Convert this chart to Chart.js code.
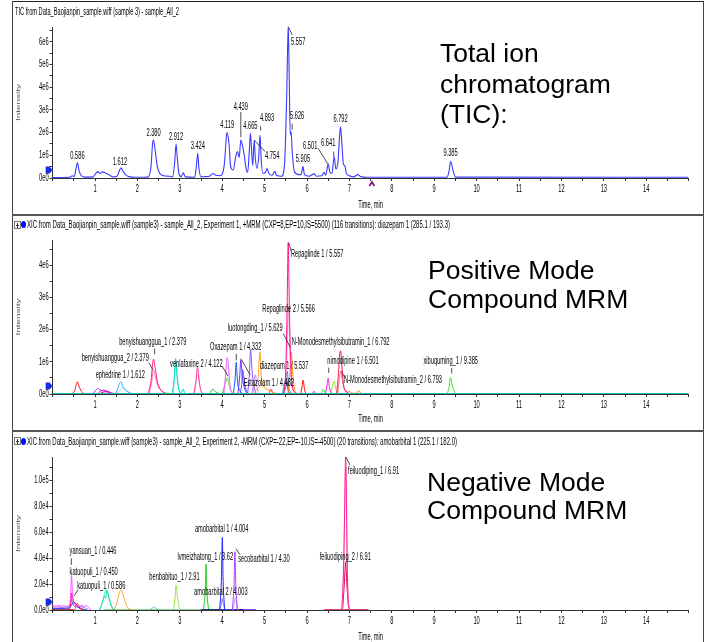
<!DOCTYPE html>
<html><head><meta charset="utf-8">
<script src="https://cdn.jsdelivr.net/npm/chart.js@4.4.1/dist/chart.umd.min.js"></script>
<style>
body{margin:0;background:#fff;}
#page{position:relative;width:706px;height:642px;overflow:hidden;background:#fff;font-family:"Liberation Sans",Arial,sans-serif;}
.ln{position:absolute;background:#444;}
canvas{position:absolute;left:12px;}
.ttl{position:absolute;white-space:nowrap;font-size:10px;line-height:12px;color:#000;transform-origin:0 50%;}
.big{position:absolute;font-size:26.5px;color:#000;white-space:nowrap;}
.plus{position:absolute;width:5px;height:6px;border:1px solid #777;background:#fff;}
.plus:before{content:"";position:absolute;left:1px;top:3px;width:3px;height:1px;background:#333;}
.plus:after{content:"";position:absolute;left:2px;top:1px;width:1px;height:5px;background:#333;}
.dot{position:absolute;width:5px;height:7px;border-radius:50%;background:#0010ff;}
</style></head>
<body><div id="page">
<div class="ln" style="left:12px;top:1px;width:692px;height:1px;background:#222"></div>
<div class="ln" style="left:12px;top:1px;width:1px;height:641px"></div>
<div class="ln" style="left:703px;top:1px;width:1px;height:641px"></div>
<div class="ln" style="left:12px;top:214px;width:692px;height:2px;background:#555"></div>
<div class="ln" style="left:12px;top:430px;width:692px;height:2px;background:#555"></div>

<canvas id="c1" width="691" height="213" style="top:2px"></canvas>
<canvas id="c2" width="691" height="215" style="top:216px"></canvas>
<canvas id="c3" width="691" height="210" style="top:432px"></canvas>

<div class="ttl" data-w="164" style="left:15px;top:6px">TIC from Data_Baojianpin_sample.wiff (sample 3) - sample_All_2</div>
<div class="plus" style="left:14px;top:221px"></div><div class="dot" style="left:21px;top:221px"></div>
<div class="ttl" data-w="423" style="left:27px;top:219px">XIC from Data_Baojianpin_sample.wiff (sample3) - sample_All_2, Experiment 1, +MRM (CXP=8,EP=10,IS=5500) (116 transitions): diazepam 1 (285.1 / 193.3)</div>
<div class="plus" style="left:14px;top:437px"></div><div class="dot" style="left:21px;top:438px"></div>
<div class="ttl" data-w="430" style="left:27px;top:436px">XIC from Data_Baojianpin_sample.wiff (sample3) - sample_All_2, Experiment 2, -MRM (CXP=-22,EP=-10,IS=-4500) (20 transitions): amobarbital 1 (225.1 / 182.0)</div>

<div class="big" style="left:440px;top:38px;line-height:30.5px">Total ion<br>chromatogram<br>(TIC):</div>
<div class="big" style="left:428px;top:256px;line-height:29.3px">Positive Mode<br>Compound MRM</div>
<div class="big" style="left:427px;top:468px;line-height:28.3px">Negative Mode<br>Compound MRM</div>
</div>
<script>
// ---------------- axis tick labels ----------------
const xTickValues = [1,2,3,4,5,6,7,8,9,10,11,12,13,14];
const xTickLabels = ['1','2','3','4','5','6','7','8','9','10','11','12','13','14'];
const ticYTickValues = [0,1e6,2e6,3e6,4e6,5e6,6e6];
const ticYTickLabels = ['0e0','1e6','2e6','3e6','4e6','5e6','6e6'];
const posYTickValues = [0,1e6,2e6,3e6,4e6];
const posYTickLabels = ['0e0','1e6','2e6','3e6','4e6'];
const negYTickValues = [0,2e4,4e4,6e4,8e4,1e5];
const negYTickLabels = ['0.0e0','2.0e4','4.0e4','6.0e4','8.0e4','1.0e5'];

// ---------------- TIC trace: [time (min), intensity] ----------------
const ticTrace = [[0,0.02e6],[0.40,0.03e6],[0.47,0.10e6],[0.51,0.06e6],[0.55,0.40e6],[0.586,0.67e6],[0.62,0.35e6],[0.67,0.12e6],[0.75,0.04e6],[0.95,0.05e6],[1.02,0.20e6],[1.07,0.28e6],[1.12,0.20e6],[1.18,0.27e6],[1.24,0.22e6],[1.32,0.15e6],[1.42,0.05e6],[1.52,0.08e6],[1.57,0.30e6],[1.612,0.45e6],[1.66,0.30e6],[1.72,0.15e6],[1.80,0.06e6],[1.95,0.03e6],[2.25,0.04e6],[2.32,0.50e6],[2.36,1.55e6],[2.38,1.67e6],[2.42,1.20e6],[2.47,0.50e6],[2.53,0.20e6],[2.62,0.10e6],[2.75,0.08e6],[2.83,0.05e6],[2.88,0.70e6],[2.912,1.50e6],[2.94,0.90e6],[2.98,0.20e6],[3.03,0.05e6],[3.08,0.23e6],[3.13,0.05e6],[3.35,0.03e6],[3.39,0.50e6],[3.424,1.09e6],[3.45,0.45e6],[3.50,0.05e6],[3.60,0.06e6],[3.70,0.08e6],[3.78,0.20e6],[3.85,0.12e6],[3.95,0.10e6],[4.05,0.60e6],[4.10,1.85e6],[4.119,2.00e6],[4.16,1.50e6],[4.20,0.50e6],[4.26,0.35e6],[4.32,0.95e6],[4.36,1.16e6],[4.40,0.90e6],[4.439,1.67e6],[4.48,1.40e6],[4.52,1.00e6],[4.56,0.45e6],[4.60,0.25e6],[4.64,1.20e6],[4.665,1.97e6],[4.70,1.00e6],[4.72,0.55e6],[4.754,1.67e6],[4.78,0.90e6],[4.82,0.42e6],[4.86,0.90e6],[4.893,1.89e6],[4.92,0.80e6],[4.96,0.20e6],[5.02,0.25e6],[5.06,0.42e6],[5.10,0.20e6],[5.18,0.12e6],[5.24,0.30e6],[5.28,0.12e6],[5.40,0.08e6],[5.47,0.60e6],[5.52,3.50e6],[5.557,6.66e6],[5.58,4.50e6],[5.605,1.90e6],[5.626,2.04e6],[5.65,1.20e6],[5.70,0.30e6],[5.80,0.15e6],[5.86,0.15e6],[5.905,0.50e6],[5.94,0.15e6],[6.05,0.08e6],[6.17,0.18e6],[6.22,0.08e6],[6.35,0.10e6],[6.40,0.25e6],[6.44,0.12e6],[6.501,0.62e6],[6.54,0.25e6],[6.59,0.20e6],[6.641,0.94e6],[6.68,0.40e6],[6.73,0.70e6],[6.77,1.90e6],[6.792,2.26e6],[6.82,1.60e6],[6.86,0.60e6],[6.89,0.55e6],[6.93,0.20e6],[7.00,0.10e6],[7.10,0.05e6],[7.20,0.15e6],[7.25,0.08e6],[7.40,0.03e6],[9.30,0.03e6],[9.35,0.30e6],[9.385,0.72e6],[9.45,0.30e6],[9.50,0.04e6],[15,0.03e6]];
const ticPeakText = ['0.586','1.612','2.380','2.912','3.424','4.119','4.439','4.665','4.754','4.893','5.557','5.626','5.905','6.501','6.641','6.792','9.385'];
const ticPeakTime = [0.586,1.612,2.380,2.912,3.424,4.119,4.439,4.665,4.754,4.893,5.557,5.626,5.905,6.501,6.641,6.792,9.385];
const ticPeakIntensity = [0.67e6,0.45e6,1.67e6,1.50e6,1.09e6,2.00e6,1.67e6,1.97e6,1.67e6,1.89e6,6.66e6,2.04e6,0.50e6,0.62e6,0.94e6,2.26e6,0.72e6];

// ---------------- Positive mode MRM traces ----------------
const posCyanBase = [[0,0],[15,0]];
const posRed058 = [[0.45,0],[0.52,0.1e6],[0.56,0.3e6],[0.586,0.38e6],[0.62,0.25e6],[0.68,0.08e6],[0.76,0]];
const posPurple11 = [[0.95,0],[1.02,0.12e6],[1.07,0.17e6],[1.12,0.12e6],[1.2,0.1e6],[1.3,0.05e6],[1.4,0]];
const posMagenta12 = [[1.05,0],[1.12,0.08e6],[1.2,0.12e6],[1.28,0.1e6],[1.35,0.04e6],[1.45,0]];
const posRed12 = [[1.1,0],[1.2,0.06e6],[1.3,0.08e6],[1.4,0.03e6],[1.5,0]];
const ephedrine1 = [[1.45,0],[1.52,0.1e6],[1.57,0.3e6],[1.612,0.38e6],[1.66,0.22e6],[1.72,0.12e6],[1.8,0.05e6],[1.9,0]];
const ephedrine2 = [[1.5,0],[1.6,0.12e6],[1.68,0.2e6],[1.75,0.1e6],[1.85,0]];
const benyishuanggua1 = [[2.25,0],[2.32,0.4e6],[2.36,0.95e6],[2.379,1.08e6],[2.42,0.8e6],[2.47,0.4e6],[2.53,0.18e6],[2.62,0.05e6],[2.75,0]];
const benyishuanggua2 = [[2.28,0],[2.34,0.4e6],[2.379,0.75e6],[2.42,0.55e6],[2.48,0.25e6],[2.58,0.08e6],[2.7,0]];
const posNavyBase = [[2.3,0],[3.5,0]];
const posLime27 = [[2.6,0],[2.7,0.04e6],[2.8,0]];
const posCyan29 = [[2.82,0],[2.87,0.5e6],[2.9,1.1e6],[2.93,0.6e6],[2.98,0.12e6],[3.03,0.02e6],[3.08,0.15e6],[3.12,0.02e6],[3.2,0]];
const posAqua29 = [[2.84,0],[2.89,0.7e6],[2.92,0.9e6],[2.96,0.3e6],[3.02,0]];
const posPink342 = [[3.33,0],[3.38,0.4e6],[3.42,0.85e6],[3.45,0.45e6],[3.5,0.1e6],[3.56,0]];
const posPinkLight342 = [[3.35,0],[3.4,0.5e6],[3.44,0.6e6],[3.48,0.2e6],[3.54,0]];
const posGreen378 = [[3.7,0],[3.78,0.15e6],[3.85,0.06e6],[3.95,0]];
const venlafaxine2 = [[4.0,0],[4.08,0.35e6],[4.122,0.5e6],[4.16,0.3e6],[4.22,0.05e6],[4.3,0]];
const venlafaxine1 = [[4.03,0],[4.08,0.6e6],[4.11,1.13e6],[4.14,1.0e6],[4.18,0.3e6],[4.24,0]];
const posPinkLight413 = [[4.05,0],[4.1,0.8e6],[4.13,0.9e6],[4.18,0.2e6],[4.24,0]];
const oxazepam1 = [[4.26,0],[4.3,0.4e6],[4.332,0.98e6],[4.36,0.4e6],[4.42,0.1e6],[4.5,0]];
const posPurple444 = [[4.37,0],[4.41,0.5e6],[4.44,1.06e6],[4.47,0.6e6],[4.52,0.2e6],[4.58,0]];
const estazolam1 = [[4.42,0],[4.46,0.3e6],[4.482,0.75e6],[4.53,0.3e6],[4.6,0]];
const posViolet467 = [[4.6,0],[4.64,0.6e6],[4.67,1.37e6],[4.7,0.8e6],[4.74,0.3e6],[4.8,0]];
const posLilac478 = [[4.7,0],[4.75,0.4e6],[4.78,0.6e6],[4.82,0.2e6],[4.88,0]];
const posOrange489 = [[4.72,0],[4.78,0.3e6],[4.84,0.45e6],[4.87,1.0e6],[4.89,1.31e6],[4.92,0.6e6],[4.98,0.25e6],[5.1,0.12e6],[5.2,0.05e6],[5.3,0]];
const posOrangeLight50 = [[4.75,0],[4.85,0.2e6],[4.95,0.25e6],[5.05,0.15e6],[5.2,0.05e6],[5.3,0]];
const posMagenta515 = [[5.1,0],[5.15,0.15e6],[5.2,0]];
const diazepam1 = [[5.42,0],[5.47,0.3e6],[5.51,0.55e6],[5.537,0.7e6],[5.56,0.3e6],[5.62,0.05e6],[5.66,0]];
const posBlue553 = [[5.45,0],[5.5,0.25e6],[5.53,0.4e6],[5.56,0.1e6],[5.62,0]];
const repaglinde1 = [[5.45,0],[5.5,0.8e6],[5.53,2.6e6],[5.557,4.7e6],[5.58,3.0e6],[5.61,1.2e6],[5.65,0.3e6],[5.72,0.05e6],[5.8,0]];
const repaglinde2 = [[5.46,0],[5.51,0.6e6],[5.54,2.0e6],[5.566,2.7e6],[5.59,1.6e6],[5.62,0.6e6],[5.67,0.1e6],[5.75,0]];
const luotongding1 = [[5.55,0],[5.59,0.5e6],[5.629,1.29e6],[5.66,0.7e6],[5.7,0.2e6],[5.76,0]];
const posRed591 = [[5.85,0],[5.88,0.2e6],[5.91,0.43e6],[5.94,0.15e6],[5.98,0]];
const posMagenta617 = [[6.12,0],[6.17,0.08e6],[6.22,0]];
const posGreen638 = [[6.33,0],[6.38,0.15e6],[6.43,0.02e6],[6.47,0]];
const nimodipine1 = [[6.43,0],[6.47,0.25e6],[6.501,0.49e6],[6.53,0.2e6],[6.58,0]];
const posYellowGreen664 = [[6.56,0],[6.6,0.25e6],[6.64,0.4e6],[6.68,0.15e6],[6.72,0]];
const nMonodesmethylsibutramin1 = [[6.7,0],[6.74,0.6e6],[6.77,1.2e6],[6.792,1.34e6],[6.82,0.9e6],[6.86,0.3e6],[6.92,0.1e6],[7.0,0]];
const nMonodesmethylsibutramin2 = [[6.72,0],[6.76,0.4e6],[6.793,0.7e6],[6.83,0.45e6],[6.88,0.15e6],[6.95,0]];
const posOrange7 = [[6.92,0],[7.0,0.08e6],[7.05,0.03e6],[7.15,0.02e6],[7.22,0.1e6],[7.28,0]];
const xibuquming1 = [[9.3,0],[9.35,0.2e6],[9.385,0.51e6],[9.43,0.25e6],[9.5,0]];

const posPeakText = ['Repaglinde 1 / 5.557','Repaglinde 2 / 5.566','luotongding_1 / 5.629','N-Monodesmethylsibutramin_1 / 6.792','Oxazepam 1 / 4.332','venlafaxine 2 / 4.122','benyishuanggua_1 / 2.379','benyishuanggua_2 / 2.379','ephedrine 1 / 1.612','diazepam 1 / 5.537','Estazolam 1 / 4.482','nimodipine 1 / 6.501','N-Monodesmethylsibutramin_2 / 6.793','xibuquming_1 / 9.385'];
const posPeakTime = [5.557,5.566,5.629,6.792,4.332,4.122,2.379,2.379,1.612,5.537,4.482,6.501,6.793,9.385];
const posPeakIntensity = [4.7e6,2.7e6,1.29e6,1.34e6,0.98e6,0.5e6,1.08e6,0.75e6,0.38e6,0.7e6,0.75e6,0.49e6,0.7e6,0.51e6];

// ---------------- Negative mode MRM traces ----------------
const negMagentaNoise = [[0,3000],[0.05,3500],[0.1,2800],[0.15,3400],[0.2,3000],[0.25,3300],[0.3,2900],[0.35,3200],[0.4,4000],[0.43,15000],[0.446,27000],[0.47,12000],[0.5,5000],[0.55,4000],[0.6,3000],[0.7,3500],[0.75,2800],[0.8,3300],[0.85,2000],[0.9,0]];
const negVioletNoise = [[0,2000],[0.1,2400],[0.2,2000],[0.3,2300],[0.4,2100],[0.45,8000],[0.5,3000],[0.6,2500],[0.75,2000],[0.85,0]];
const negBlueNoise = [[0,1000],[0.2,1200],[0.4,1500],[0.45,4000],[0.5,6500],[0.55,3500],[0.6,2000],[0.7,800],[0.8,0]];
const katuopuli450 = [[0.38,0],[0.43,6000],[0.45,13000],[0.5,6000],[0.55,5000],[0.62,2000],[0.7,0]];
const negDarkRedBase = [[0,0],[0.5,0]];
const katuopuli586 = [[0.52,0],[0.586,5000],[0.65,1500],[0.72,0]];
const negTeal128 = [[1.1,0],[1.18,6000],[1.22,11000],[1.25,9000],[1.28,15000],[1.32,11000],[1.38,4000],[1.45,0]];
const negAqua128 = [[1.12,0],[1.2,9000],[1.26,16000],[1.3,12000],[1.36,5000],[1.42,0]];
const negOrange161 = [[1.45,0],[1.52,6000],[1.58,14000],[1.62,15400],[1.68,10000],[1.75,3000],[1.85,0]];
const negSky238 = [[2.3,0],[2.35,1500],[2.4,2300],[2.45,1000],[2.5,0]];
const negGreenBase = [[1.2,0],[4.0,0]];
const benbabituo1 = [[2.85,0],[2.89,10000],[2.91,19300],[2.95,9000],[3.0,0]];
const lvmeizhatong1 = [[3.56,0],[3.6,15000],[3.62,35400],[3.64,14000],[3.68,0]];
const negNavyBase = [[3.5,0],[4.5,0]];
const amobarbital1 = [[3.94,0],[3.98,22000],[4.004,56000],[4.02,25000],[4.06,0]];
const amobarbital2 = [[3.94,0],[3.98,5000],[4.003,9000],[4.03,4000],[4.07,0]];
const secobarbital1 = [[4.24,0],[4.28,20000],[4.30,45000],[4.32,20000],[4.36,0]];
const secobarbital2 = [[4.25,0],[4.29,6000],[4.31,10000],[4.34,3000],[4.38,0]];
const negPurpleBase = [[4.3,0],[4.8,0]];
const negMaroonBase = [[6.4,0],[7.45,0]];
const feiluodiping1 = [[6.82,0],[6.86,30000],[6.89,80000],[6.91,118000],[6.93,85000],[6.95,30000],[6.98,5000],[7.02,0]];
const feiluodiping1b = [[6.83,0],[6.87,40000],[6.9,100000],[6.92,110000],[6.94,60000],[6.97,10000],[7.0,0]];
const feiluodiping2 = [[6.84,0],[6.88,20000],[6.91,37000],[6.94,20000],[6.98,2000],[7.02,0]];

const negPeakText = ['yansuan_1 / 0.446','katuopuli_1 / 0.450','katuopuli_1 / 0.586','benbabituo_1 / 2.91','lvmeizhatong_1 / 3.62','amobarbital 1 / 4.004','amobarbital 2 / 4.003','secobarbital 1 / 4.30','feiluodiping_1 / 6.91','feiluodiping_2 / 6.91'];
const negPeakTime = [0.446,0.450,0.586,2.91,3.62,4.004,4.003,4.30,6.91,6.91];
const negPeakIntensity = [27000,13000,5000,19300,35400,56000,9000,45000,118000,37000];

// ---------------- styles / layout (kept separate from data) ----------------
const SX = 0.57;
const FONT = '"Liberation Sans", Arial, sans-serif';
// [dx, dy, leader [x1,y1,x2,y2] relative to peak pixel]
const ticLabelLayout = [[0,-7],[-1,-6],[0,-7],[0,-7],[0,-7],[0,-7],[0,-33,[0,-28,0,-3]],[0,-7],[18,16.6,[0,0,11,11.6]],[7,-17,[0.6,-9,0.6,-4.4]],[10,15,[0,0,4,8]],[6,-15,[1,-8,1,-2]],[0,-7],[-18,-18,[-10,-15.6,-0.5,0]],[-6,-13.4,[-0.5,-5,-0.5,0]],[0,-7],[0,-8]];
const posLabelLayout = [[29,12,[0.5,0,3,9]],[0,2],[-36,-24,[-8,-19,-1,-5]],[0,-8.4],[-0.6,-15,[0,-8.6,0,-2]],[-31,-13.7,[-5.4,-12,0.6,-2]],[-0.7,-16.7,[1.2,-10.7,1.2,-5]],[-38.2,-11.7,[-4.5,-7,-0.5,0]],[-0.7,-6.8],[-3.2,-5.6],[26.2,13.7,[-1.9,-11.3,7.7,5.3]],[24.8,-17.3,[0.5,-10.6,0.5,-5.3]],[52.4,8.4,[0.4,-0.6,4.4,6.4]],[0.2,-16.7,[1.2,-9.7,1.2,-4]]];
const negLabelLayout = [[21.5,-23.4,[-0.2,-16.7,-0.2,-10.1]],[22,-20.4],[23.8,-17.3,[0.6,-13.6,-3.4,-7.6]],[-1.5,-7.3],[-0.8,-7],[-0.7,-8],[-1.5,-6.5],[29,8,[1,-3,5,3]],[28,14,[0.4,0,4.4,8]],[-0.3,-5]];

function narrowText(ctx, text, x, y, align, size, color) {
  ctx.save();
  ctx.font = size + 'px ' + FONT;
  ctx.fillStyle = color;
  ctx.textBaseline = 'middle';
  ctx.textAlign = align;
  ctx.translate(x, y);
  ctx.scale(SX, 1);
  ctx.fillText(text, 0, 0);
  ctx.restore();
}

const chromPlugin = {
  id: 'chrom',
  afterDraw(chart, args, o) {
    const ctx = chart.ctx, a = chart.chartArea, xs = chart.scales.x, ys = chart.scales.y;
    o.yTickValues.forEach((v, i) => narrowText(ctx, o.yTickLabels[i], a.left - 4, ys.getPixelForValue(v), 'right', 10, '#000'));
    xTickValues.forEach((v, i) => narrowText(ctx, xTickLabels[i], xs.getPixelForValue(v), a.bottom + 11, 'center', 10, '#000'));
    narrowText(ctx, 'Time, min', (a.left + a.right) / 2, a.bottom + o.timeDy, 'center', 10, '#000');
    ctx.save();
    ctx.translate(6.5, (a.top + a.bottom) / 2);
    ctx.scale(SX, 1);
    ctx.rotate(-Math.PI / 2);
    ctx.font = '10px ' + FONT; ctx.fillStyle = '#555'; ctx.textAlign = 'center'; ctx.textBaseline = 'middle';
    ctx.fillText('Intensity', 0, 0);
    ctx.restore();
    // blue start marker
    ctx.save();
    ctx.fillStyle = '#1030e8';
    const mx = a.left - 3.5, my = a.bottom - 8;
    ctx.beginPath();
    ctx.moveTo(mx - 3.5, my - 3.5); ctx.lineTo(mx + 0.5, my - 3.5); ctx.lineTo(mx + 3.5, my);
    ctx.lineTo(mx + 0.5, my + 3.5); ctx.lineTo(mx - 3.5, my + 3.5); ctx.closePath(); ctx.fill();
    ctx.restore();
    if (o.cursorTime !== undefined) {
      const cx = xs.getPixelForValue(o.cursorTime), cy = a.bottom + 4;
      ctx.save(); ctx.strokeStyle = '#800080'; ctx.lineWidth = 1.6;
      ctx.beginPath(); ctx.moveTo(cx - 2.5, cy + 4); ctx.lineTo(cx, cy); ctx.lineTo(cx + 2.5, cy + 4); ctx.stroke();
      ctx.restore();
    }
    // peak labels
    o.peakText.forEach((txt, i) => {
      const px = xs.getPixelForValue(o.peakTime[i]), py = ys.getPixelForValue(o.peakValue[i]);
      const L = o.layout[i];
      narrowText(ctx, txt, px + L[0], py + L[1], 'center', 10, '#000');
      if (L[2]) {
        ctx.save(); ctx.strokeStyle = '#222'; ctx.lineWidth = 0.8;
        ctx.beginPath(); ctx.moveTo(px + L[2][0], py + L[2][1]); ctx.lineTo(px + L[2][2], py + L[2][3]); ctx.stroke();
        ctx.restore();
      }
    });
  }
};

const minorX = [];
for (let k = 0; k <= 30; k++) minorX.push(k / 2);

function scales(yMax, yMarks, xH, yW) {
  return {
    x: { type: 'linear', min: 0, max: 15,
      afterBuildTicks: s => { s.ticks = minorX.map(v => ({ value: v })); },
      afterFit: s => { s.height = xH; },
      ticks: { display: false },
      grid: { drawOnChartArea: false, drawTicks: true, tickLength: 3, color: '#333' },
      border: { color: '#333', width: 1 } },
    y: { type: 'linear', min: 0, max: yMax,
      afterBuildTicks: s => { s.ticks = yMarks.map(v => ({ value: v })); },
      afterFit: s => { s.width = yW; },
      ticks: { display: false },
      grid: { drawOnChartArea: false, drawTicks: true, tickLength: 3, color: '#333' },
      border: { color: '#333', width: 1 } }
  };
}
function ds(data, color, width) {
  return { data: data, borderColor: color, borderWidth: width || 1, pointRadius: 0, fill: false,
    tension: 0.3, cubicInterpolationMode: 'monotone' };
}
function makeChart(id, datasets, yMax, yMarks, xH, top, plug) {
  return new Chart(document.getElementById(id), {
    type: 'line',
    data: { datasets: datasets },
    options: {
      responsive: false, animation: false, parsing: true,
      layout: { padding: { top: top, right: 14.4, left: 0, bottom: 0 }, autoPadding: false },
      scales: scales(yMax, yMarks, xH, 40.6),
      plugins: { legend: { display: false }, tooltip: { enabled: false }, chrom: plug }
    },
    plugins: [chromPlugin]
  });
}

// Panel 1: TIC
makeChart('c1', [ds(ticTrace, '#3a3aff', 1.1)], 6.65e6,
  [0,0.5e6,1e6,1.5e6,2e6,2.5e6,3e6,3.5e6,4e6,4.5e6,5e6,5.5e6,6e6,6.5e6], 37, 25,
  { yTickValues: ticYTickValues, yTickLabels: ticYTickLabels, timeDy: 27, cursorTime: 7.53,
    peakText: ticPeakText, peakTime: ticPeakTime, peakValue: ticPeakIntensity, layout: ticLabelLayout });

// Panel 2: positive MRM
makeChart('c2', [
  ds(posCyanBase, '#1bbcbc', 2),
  ds(repaglinde1, '#ff1490'), ds(repaglinde2, '#ff8ccc'), ds(luotongding1, '#ff9010'),
  ds(nMonodesmethylsibutramin1, '#ff1050'), ds(nMonodesmethylsibutramin2, '#ff7080'),
  ds(diazepam1, '#0090ff'), ds(posBlue553, '#0000c0'),
  ds(oxazepam1, '#2050ff'), ds(posPurple444, '#7030ff'), ds(estazolam1, '#4060ff'),
  ds(posViolet467, '#9050ff'), ds(posLilac478, '#c090ff'),
  ds(posOrange489, '#ffa020'), ds(posOrangeLight50, '#ffc060'), ds(posMagenta515, '#ff00ff'),
  ds(venlafaxine1, '#e070ff'), ds(posPinkLight413, '#ffb0f0'), ds(venlafaxine2, '#50d020'),
  ds(posGreen378, '#20d020'),
  ds(benyishuanggua1, '#ff2080'), ds(benyishuanggua2, '#ff70c0'),
  ds(posCyan29, '#00d8c8'), ds(posAqua29, '#70f0e0'),
  ds(posPink342, '#ff40a0'), ds(posPinkLight342, '#ffa0d8'),
  ds(posLime27, '#a0ff40'), ds(posNavyBase, '#000090', 2),
  ds(ephedrine1, '#30b0ff'), ds(ephedrine2, '#90d0ff'),
  ds(posRed058, '#ff1010'), ds(posPurple11, '#b020ff'), ds(posMagenta12, '#ff20c0'), ds(posRed12, '#e00030'),
  ds(posRed591, '#ff0000'), ds(posMagenta617, '#e000e0'), ds(posGreen638, '#40e040'),
  ds(nimodipine1, '#ff10e0'), ds(posYellowGreen664, '#90e030'), ds(posOrange7, '#ff8000'),
  ds(xibuquming1, '#40e020')
], 4.78e6, [0,0.5e6,1e6,1.5e6,2e6,2.5e6,3e6,3.5e6,4e6,4.5e6], 37, 24,
  { yTickValues: posYTickValues, yTickLabels: posYTickLabels, timeDy: 25,
    peakText: posPeakText, peakTime: posPeakTime, peakValue: posPeakIntensity, layout: posLabelLayout });

// Panel 3: negative MRM
makeChart('c3', [
  ds(feiluodiping1, '#ff2090'), ds(feiluodiping1b, '#ff9ad4'), ds(feiluodiping2, '#e00060'),
  ds(negMaroonBase, '#c00040', 1.5),
  ds(amobarbital1, '#2020ff'), ds(amobarbital2, '#8080ff'),
  ds(secobarbital1, '#b040ff'), ds(secobarbital2, '#d0a0ff'),
  ds(negNavyBase, '#000080', 1.5), ds(negPurpleBase, '#8000ff', 1.5),
  ds(lvmeizhatong1, '#20d020'), ds(benbabituo1, '#a0e040'),
  ds(negGreenBase, '#20b020', 1.2), ds(negSky238, '#40c0ff'),
  ds(negOrange161, '#ffa030'), ds(negTeal128, '#20e0a0'), ds(negAqua128, '#40f0e0'),
  ds(negMagentaNoise, '#ff50ff'), ds(katuopuli450, '#ff0000'), ds(katuopuli586, '#e06060'),
  ds(negBlueNoise, '#2040ff'), ds(negVioletNoise, '#a060ff'), ds(negDarkRedBase, '#a00000', 1.5)
], 1.18e5, [0,1e4,2e4,3e4,4e4,5e4,6e4,7e4,8e4,9e4,1e5,1.1e5], 32, 25,
  { yTickValues: negYTickValues, yTickLabels: negYTickLabels, timeDy: 27,
    peakText: negPeakText, peakTime: negPeakTime, peakValue: negPeakIntensity, layout: negLabelLayout });

document.querySelectorAll('.ttl').forEach(el => {
  const w = el.getBoundingClientRect().width;
  el.style.transform = 'scaleX(' + (el.dataset.w / w) + ')';
});
</script>
</body></html>
